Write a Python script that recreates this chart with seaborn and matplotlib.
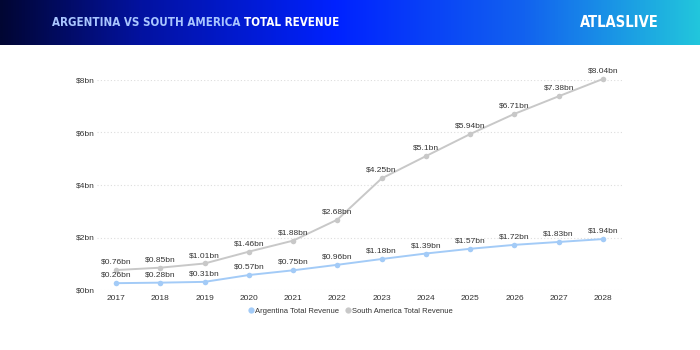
import numpy as np
import pandas as pd
import matplotlib
matplotlib.use("Agg")
import matplotlib.pyplot as plt
import seaborn as sns
from matplotlib.colors import LinearSegmentedColormap
from matplotlib.lines import Line2D

years = ["2017", "2018", "2019", "2020", "2021", "2022", "2023", "2024", "2025", "2026", "2027", "2028"]
argentina = [0.26, 0.28, 0.31, 0.57, 0.75, 0.96, 1.18, 1.39, 1.57, 1.72, 1.83, 1.94]
south_america = [0.76, 0.85, 1.01, 1.46, 1.88, 2.68, 4.25, 5.1, 5.94, 6.71, 7.38, 8.04]
series_names = ["Argentina Total Revenue", "South America Total Revenue"]
y_ticks = [0, 2, 4, 6, 8]
y_tick_labels = ["$0bn", "$2bn", "$4bn", "$6bn", "$8bn"]

colors = {"Argentina Total Revenue": "#a3cbf7", "South America Total Revenue": "#c8c8c8"}

sns.set_theme(style="white")
plt.rcParams["font.family"] = ["Liberation Sans", "DejaVu Sans"]

df = pd.DataFrame({
    "year": years * 2,
    "value": argentina + south_america,
    "series": [series_names[0]] * len(years) + [series_names[1]] * len(years),
})

fig = plt.figure(figsize=(7, 3.5), dpi=100)
fig.patch.set_facecolor("white")

# header band
hax = fig.add_axes([0, 1 - 45 / 350, 1, 45 / 350])
cmap = LinearSegmentedColormap.from_list("hdr", [(0, "#010633"), (0.2, "#0312a0"), (0.48, "#0022ff"), (0.75, "#1262ef"), (1.0, "#22c6dc")])
grad = np.linspace(0, 1, 512).reshape(1, -1)
hax.imshow(grad, aspect="auto", cmap=cmap, extent=[0, 1, 0, 1])
hax.set_axis_off()
hdr_font = ["DejaVu Sans Condensed", "DejaVu Sans"]
t1 = hax.text(52 / 700, 0.5, "ARGENTINA VS SOUTH AMERICA ", color="#a9c6ff", fontsize=8.3,
              fontweight="bold", family=hdr_font, fontstretch="condensed", va="center", ha="left",
              transform=hax.transAxes)
fig.canvas.draw()
bb = t1.get_window_extent()
x2 = hax.transAxes.inverted().transform((bb.x1, bb.y0))[0]
hax.text(x2, 0.5, "TOTAL REVENUE", color="white", fontsize=8.3, fontweight="bold",
         family=hdr_font, fontstretch="condensed", va="center", ha="left", transform=hax.transAxes)
hax.text(659 / 700, 0.5, "ATLASLIVE", color="white", fontsize=10.5, fontweight="bold",
         family=hdr_font, fontstretch="condensed", va="center", ha="right", transform=hax.transAxes)

# main chart
ax = fig.add_axes([97 / 700, 1 - 290 / 350, (622 - 97) / 700, (290 - 80) / 350])
sns.lineplot(data=df, x="year", y="value", hue="series", palette=colors, marker="o",
             markersize=4, markeredgewidth=0, linewidth=1.4, ax=ax, legend=False, sort=False)
for line in ax.lines:
    line.set_clip_on(False)

ax.set_ylim(0, 8)
ax.set_xlim(-0.43, len(years) - 1 + 0.43)
ax.set_yticks(y_ticks)
ax.set_yticklabels(y_tick_labels)
ax.set_xlabel("")
ax.set_ylabel("")
ax.tick_params(axis="y", labelsize=6, colors="#333333", length=0, pad=1.5)
ax.tick_params(axis="x", labelsize=6, colors="#333333", length=0, pad=3.5)
ax.grid(axis="y", color="#dddddd", linestyle=(0, (1, 2)), linewidth=0.8)
for s in ax.spines.values():
    s.set_visible(False)

for vals in (argentina, south_america):
    for i, v in enumerate(vals):
        ax.annotate(f"${v:g}bn", xy=(i, v), xytext=(0, 3.2), textcoords="offset points",
                    ha="center", va="bottom", fontsize=6, color="#333333", annotation_clip=False)

handles = [Line2D([0], [0], marker="o", linestyle="", markersize=4.5, markerfacecolor=colors[n],
                  markeredgewidth=0) for n in series_names]
fig.legend(handles, series_names, loc="center", bbox_to_anchor=(350 / 700, 1 - 311 / 350), ncol=2,
           frameon=False, fontsize=5.5, handletextpad=0.0, columnspacing=0.7, handlelength=1.0,
           labelcolor="#333333")

fig.savefig("out.png", dpi=100)
